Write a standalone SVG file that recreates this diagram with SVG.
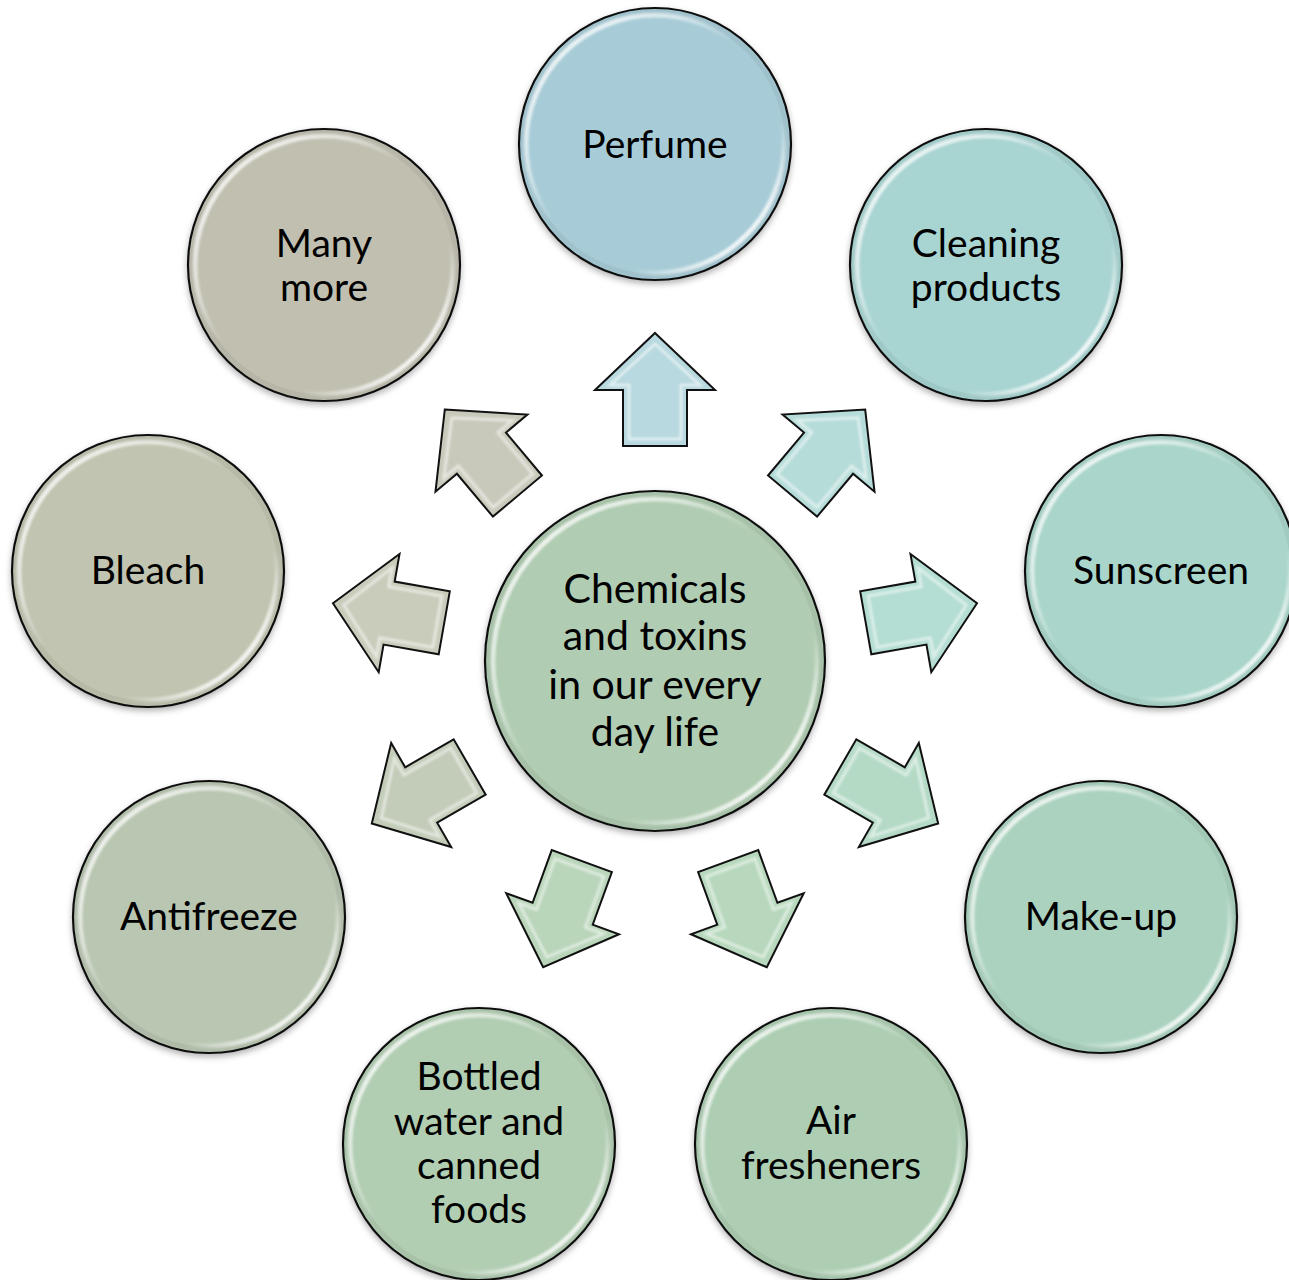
<svg xmlns="http://www.w3.org/2000/svg" width="1289" height="1280" viewBox="0 0 1289 1280">
<defs>
<style>
.lbl{font-family:Lato,"Open Sans","Liberation Sans",sans-serif;font-size:39px;fill:#000;text-anchor:middle}
.big{font-size:41px}
.disc{stroke:#111;stroke-width:2.2;filter:url(#shadow)}
.gloss{fill:none;stroke:url(#glossGrad);stroke-width:5;filter:url(#soft)}
.inner{fill:none;stroke:#000;stroke-opacity:0.05;stroke-width:5}
.arr{stroke:#111;stroke-width:2;stroke-linejoin:miter}
.bevel{fill:none;stroke:#fff;stroke-opacity:0.55;stroke-width:3;filter:url(#soft)}
</style>
<filter id="shadow" x="-20%" y="-20%" width="140%" height="140%">
<feDropShadow dx="0" dy="3" stdDeviation="3" flood-color="#000" flood-opacity="0.3"/>
</filter>
<filter id="soft" x="-10%" y="-10%" width="120%" height="120%">
<feGaussianBlur stdDeviation="1.2"/>
</filter>
<linearGradient id="glossGrad" x1="0" y1="0" x2="1" y2="1">
<stop offset="0" stop-color="#fff" stop-opacity="0.95"/>
<stop offset="0.3" stop-color="#fff" stop-opacity="0.5"/>
<stop offset="0.45" stop-color="#fff" stop-opacity="0"/>
<stop offset="0.7" stop-color="#fff" stop-opacity="0"/>
<stop offset="0.85" stop-color="#fff" stop-opacity="0.8"/>
<stop offset="1" stop-color="#fff" stop-opacity="0.3"/>
</linearGradient>
<path id="arrowShape" d="M655,333 L715,390 L687,390 L687,446 L623,446 L623,390 L595,390 Z"/>
<path id="arrowBevel" d="M655,344 L700,385 L681,385 L681,439 L629,439 L629,385 L610,385 Z"/>
</defs>
<rect width="1289" height="1280" fill="#fff"/>

<g id="connectors">
<g transform="rotate(0 655 660)"><use href="#arrowShape" class="arr" fill="#b8d9df"/><use href="#arrowBevel" class="bevel"/></g>
<g transform="rotate(40 655 660)"><use href="#arrowShape" class="arr" fill="#b5dcd9"/><use href="#arrowBevel" class="bevel"/></g>
<g transform="rotate(80 655 660)"><use href="#arrowShape" class="arr" fill="#b4ddd3"/><use href="#arrowBevel" class="bevel"/></g>
<g transform="rotate(120 655 660)"><use href="#arrowShape" class="arr" fill="#b4dac6"/><use href="#arrowBevel" class="bevel"/></g>
<g transform="rotate(160 655 660)"><use href="#arrowShape" class="arr" fill="#b7d8bd"/><use href="#arrowBevel" class="bevel"/></g>
<g transform="rotate(200 655 660)"><use href="#arrowShape" class="arr" fill="#b9d5ba"/><use href="#arrowBevel" class="bevel"/></g>
<g transform="rotate(240 655 660)"><use href="#arrowShape" class="arr" fill="#c3ccb9"/><use href="#arrowBevel" class="bevel"/></g>
<g transform="rotate(280 655 660)"><use href="#arrowShape" class="arr" fill="#c9ccbb"/><use href="#arrowBevel" class="bevel"/></g>
<g transform="rotate(320 655 660)"><use href="#arrowShape" class="arr" fill="#c9c9bb"/><use href="#arrowBevel" class="bevel"/></g>
</g>

<g id="center">
<circle cx="655" cy="661" r="170" class="disc" fill="#b0ccb2"/>
<circle cx="655" cy="661" r="166" class="inner"/>
<circle cx="655" cy="661" r="162" class="gloss"/>
<text class="lbl big" x="655" y="603">Chemicals</text>
<text class="lbl big" x="655" y="650">and toxins</text>
<text class="lbl big" x="655" y="699">in our every</text>
<text class="lbl big" x="655" y="746">day life</text>
</g>

<g id="perfume">
<circle cx="655" cy="144" r="136" class="disc" fill="#a8ccd7"/>
<circle cx="655" cy="144" r="132" class="inner"/>
<circle cx="655" cy="144" r="129" class="gloss"/>
<text class="lbl" x="655" y="158">Perfume</text>
</g>

<g id="cleaning">
<circle cx="986" cy="265" r="136" class="disc" fill="#a8d4d1"/>
<circle cx="986" cy="265" r="132" class="inner"/>
<circle cx="986" cy="265" r="129" class="gloss"/>
<text class="lbl" x="986" y="257">Cleaning</text>
<text class="lbl" x="986" y="301">products</text>
</g>

<g id="sunscreen">
<circle cx="1161" cy="571" r="136" class="disc" fill="#a9d5ca"/>
<circle cx="1161" cy="571" r="132" class="inner"/>
<circle cx="1161" cy="571" r="129" class="gloss"/>
<text class="lbl" x="1161" y="584">Sunscreen</text>
</g>

<g id="makeup">
<circle cx="1101" cy="917" r="136" class="disc" fill="#abd2bf"/>
<circle cx="1101" cy="917" r="132" class="inner"/>
<circle cx="1101" cy="917" r="129" class="gloss"/>
<text class="lbl" x="1101" y="930">Make-up</text>
</g>

<g id="air">
<circle cx="831" cy="1144" r="136" class="disc" fill="#adceb3"/>
<circle cx="831" cy="1144" r="132" class="inner"/>
<circle cx="831" cy="1144" r="129" class="gloss"/>
<text class="lbl" x="831" y="1134">Air</text>
<text class="lbl" x="831" y="1179">fresheners</text>
</g>

<g id="bottled">
<circle cx="479" cy="1144" r="136" class="disc" fill="#b1cdb2"/>
<circle cx="479" cy="1144" r="132" class="inner"/>
<circle cx="479" cy="1144" r="129" class="gloss"/>
<text class="lbl" x="479" y="1090">Bottled</text>
<text class="lbl" x="479" y="1135">water and</text>
<text class="lbl" x="479" y="1179">canned</text>
<text class="lbl" x="479" y="1223">foods</text>
</g>

<g id="antifreeze">
<circle cx="209" cy="917" r="136" class="disc" fill="#b9c6b1"/>
<circle cx="209" cy="917" r="132" class="inner"/>
<circle cx="209" cy="917" r="129" class="gloss"/>
<text class="lbl" x="209" y="930">Antifreeze</text>
</g>

<g id="bleach">
<circle cx="148" cy="571" r="136" class="disc" fill="#c0c4b0"/>
<circle cx="148" cy="571" r="132" class="inner"/>
<circle cx="148" cy="571" r="129" class="gloss"/>
<text class="lbl" x="148" y="584">Bleach</text>
</g>

<g id="manymore">
<circle cx="324" cy="265" r="136" class="disc" fill="#c0bfb0"/>
<circle cx="324" cy="265" r="132" class="inner"/>
<circle cx="324" cy="265" r="129" class="gloss"/>
<text class="lbl" x="324" y="257">Many</text>
<text class="lbl" x="324" y="301">more</text>
</g>
</svg>
